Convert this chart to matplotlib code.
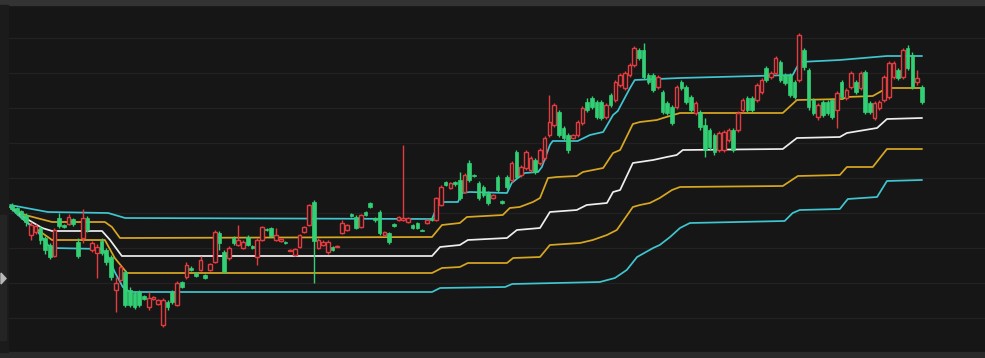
import numpy as np
import matplotlib
matplotlib.use("Agg")
import matplotlib.pyplot as plt
import matplotlib.patches as mpatches

# ── candle data (price units) ───────────────────────────────────────────────
opens = [155, 152, 149, 145, 125, 128, 132, 122, 115, 104,
         142, 135, 136, 141, 118, 122, 142, 110, 107, 119,
         110, 103, 70, 80, 88, 70, 67, 68, 64, 53,
         61, 56, 35, 58, 68, 55, 78, 83, 92, 87,
         90, 85, 90, 98, 127, 108, 102, 122, 115, 112,
         123, 114, 103, 120, 131, 132, 120, 119, 118, 109,
         105, 113, 128, 135, 158, 112, 115, 108, 113, 113,
         127, 130, 146, 143, 133, 148, 157, 142, 148, 125,
         127, 136, 140, 140, 138, 135, 137, 130, 137, 142,
         140, 155, 178, 172, 178, 180, 168, 197, 185, 177,
         173, 167, 162, 183, 159, 183, 180, 208, 185, 192,
         190, 200, 197, 202, 225, 235, 248, 232, 225, 222,
         225, 237, 258, 262, 258, 258, 243, 265, 260, 275,
         272, 285, 295, 310, 310, 285, 285, 273, 268, 257,
         253, 253, 278, 273, 263, 247, 248, 235, 230, 225,
         210, 210, 220, 230, 230, 250, 262, 262, 260, 268,
         292, 283, 287, 298, 285, 285, 278, 280, 310, 290,
         260, 243, 258, 258, 260, 250, 278, 262, 273, 278,
         272, 288, 257, 242, 252, 260, 263, 283, 290, 283,
         312, 305, 278, 273]
closes = [151, 147, 143, 138, 135, 134, 120, 110, 103, 130,
          134, 133, 143, 136, 104, 142, 130, 117, 113, 107,
          98, 83, 77, 93, 55, 55, 53, 55, 61, 62,
          63, 60, 60, 53, 58, 77, 73, 95, 90, 84,
          100, 82, 96, 128, 117, 88, 112, 117, 120, 118,
          115, 112, 120, 133, 130, 124, 125, 121, 117, 110,
          111, 125, 133, 155, 119, 120, 118, 118, 110, 114,
          137, 135, 144, 132, 145, 145, 153, 140, 127, 128,
          118, 134, 143, 142, 142, 132, 132, 129, 140, 140,
          162, 173, 175, 177, 176, 162, 185, 180, 184, 162,
          165, 157, 165, 170, 157, 173, 197, 183, 193, 208,
          202, 188, 210, 222, 238, 255, 225, 222, 210, 225,
          238, 252, 250, 253, 243, 242, 255, 255, 278, 285,
          287, 295, 312, 302, 283, 278, 270, 283, 248, 247,
          237, 273, 272, 258, 250, 257, 233, 210, 213, 208,
          227, 228, 230, 210, 247, 260, 250, 250, 275, 280,
          280, 287, 302, 280, 277, 265, 263, 325, 293, 253,
          247, 255, 245, 247, 243, 267, 263, 270, 287, 268,
          287, 248, 248, 257, 258, 283, 297, 297, 282, 310,
          292, 273, 282, 258]
highs = [157, 153, 150, 147, 138, 136, 134, 124, 117, 132,
         147, 136, 146, 142, 122, 151, 144, 119, 116, 122,
         112, 105, 83, 95, 90, 73, 69, 70, 65, 68,
         64, 61, 62, 60, 70, 79, 79, 98, 94, 88,
         104, 86, 97, 130, 129, 110, 114, 124, 135, 120,
         125, 115, 122, 134, 132, 133, 132, 122, 119, 111,
         112, 126, 134, 156, 160, 122, 120, 120, 114, 115,
         140, 136, 147, 145, 146, 149, 158, 143, 150, 129,
         128, 137, 144, 215, 143, 136, 138, 131, 141, 143,
         163, 175, 179, 178, 179, 188, 187, 200, 186, 179,
         175, 169, 166, 185, 160, 185, 199, 210, 195, 210,
         204, 202, 212, 224, 265, 257, 250, 234, 227, 226,
         240, 254, 262, 264, 260, 260, 257, 267, 280, 287,
         289, 297, 314, 312, 317, 287, 287, 285, 270, 259,
         255, 275, 280, 275, 265, 259, 250, 242, 232, 227,
         229, 230, 232, 232, 249, 262, 264, 264, 277, 282,
         294, 289, 304, 300, 287, 287, 280, 327, 312, 292,
         262, 257, 260, 260, 262, 269, 280, 272, 289, 280,
         289, 290, 259, 259, 260, 285, 299, 299, 292, 312,
         315, 308, 290, 275]
lows = [149, 145, 141, 134, 120, 126, 116, 106, 101, 103,
        132, 132, 135, 134, 102, 117, 128, 108, 82, 105,
        95, 80, 48, 78, 53, 53, 51, 53, 60, 50,
        60, 55, 33, 50, 56, 54, 72, 81, 89, 83,
        89, 81, 89, 97, 110, 87, 100, 115, 114, 111,
        114, 111, 95, 119, 129, 123, 119, 118, 116, 109,
        104, 112, 127, 134, 77, 111, 114, 106, 109, 113,
        126, 129, 143, 131, 132, 144, 152, 138, 125, 124,
        116, 133, 139, 139, 137, 131, 131, 129, 136, 139,
        139, 154, 174, 171, 174, 160, 167, 178, 183, 160,
        163, 155, 161, 168, 156, 171, 178, 182, 183, 190,
        188, 186, 195, 200, 223, 233, 223, 220, 207, 221,
        223, 235, 248, 251, 241, 240, 241, 253, 258, 273,
        270, 283, 293, 300, 281, 276, 268, 271, 246, 245,
        235, 251, 270, 256, 248, 245, 230, 203, 210, 205,
        208, 208, 218, 208, 228, 248, 248, 248, 258, 266,
        278, 281, 285, 278, 275, 263, 261, 278, 290, 250,
        245, 240, 243, 245, 241, 232, 261, 260, 271, 266,
        270, 246, 246, 240, 250, 258, 261, 281, 280, 281,
        290, 271, 275, 256]

# ── band lines: (bar index, price) breakpoints ─────────────────────────────
upper_cyan_x = [-0.4, 7.6, 20.4, 24.0, 89.1, 90.3, 91.2, 94.6, 95.4, 97.1,
                105.0, 106.0, 107.3, 108.8, 111.6, 112.4, 114.1, 114.7, 120.0,
                122.6, 125.4, 127.5, 128.5, 131.1, 132.1, 141.7, 165.6, 167.1,
                175.6, 185.6, 193.0]
upper_cyan_y = [155, 148, 147, 142, 141, 155, 158, 158, 167, 168,
                167, 177, 182, 187, 188, 193, 215, 219, 219,
                225, 228, 245, 249, 272, 280, 282, 285, 298,
                300, 304, 304]

upper_gold_x = [-0.4, 2.8, 8.5, 19.7, 21.2, 22.9, 24.4, 89.1, 91.2, 95.0,
                96.5, 104.1, 105.6, 107.7, 110.5, 112.0, 113.7, 115.6, 119.8,
                121.1, 125.4, 127.5, 129.0, 131.7, 133.2, 136.8, 138.1, 141.7,
                163.5, 166.5, 176.2, 177.1, 182.6, 185.6, 193.0]
upper_gold_y = [153, 145, 138, 138, 133, 122, 122, 123, 135, 137,
                143, 145, 152, 153, 158, 162, 182, 183, 184,
                188, 192, 207, 210, 236, 238, 240, 242, 247,
                247, 260, 261, 263, 264, 272, 272]

mid_white_x = [-0.4, 2.8, 6.4, 8.5, 19.1, 20.8, 23.3, 89.1, 90.8, 95.0,
               96.7, 105.0, 107.1, 112.0, 114.1, 119.8, 121.9, 126.2, 127.5,
               129.0, 131.7, 136.0, 138.9, 141.0, 142.3, 163.5, 166.5, 175.6,
               177.1, 183.5, 185.6, 193.0]
mid_white_y = [153, 142, 132, 129, 129, 120, 104, 104, 113, 115,
               120, 122, 130, 132, 148, 150, 155, 157, 168,
               170, 197, 200, 203, 205, 210, 211, 222, 223,
               227, 232, 241, 242]

lower_gold_x = [-0.4, 2.8, 6.4, 8.5, 19.7, 21.8, 24.4, 89.1, 91.2, 95.0,
                96.7, 105.0, 106.3, 112.0, 114.1, 120.5, 123.2, 126.2, 128.3,
                131.7, 133.2, 135.3, 137.4, 140.0, 141.7, 163.5, 166.7, 175.6,
                177.1, 182.6, 185.6, 193.0]
lower_gold_y = [153, 139, 127, 120, 120, 102, 87, 87, 92, 93,
                97, 97, 102, 103, 115, 117, 120, 125, 130,
                153, 155, 157, 162, 170, 173, 174, 184, 185,
                193, 193, 211, 211]

lower_cyan_x = [-0.4, 1.3, 5.5, 7.6, 8.5, 19.1, 20.4, 21.8, 23.5, 25.0,
                89.1, 90.8, 104.6, 106.1, 124.7, 127.9, 130.4, 132.6, 136.0,
                137.4, 139.6, 141.7, 143.8, 163.9, 165.6, 167.1, 175.6, 177.3,
                183.5, 185.6, 193.0]
lower_cyan_y = [153, 145, 128, 115, 112, 111, 103, 88, 73, 68,
                68, 72, 73, 76, 78, 82, 90, 103, 112,
                115, 123, 132, 137, 139, 147, 150, 151, 161,
                163, 179, 180]

grid_levels = [42, 77, 112, 147, 182, 217, 252, 287, 322]

# ── colours ─────────────────────────────────────────────────────────────────
BG = '#161616'
RED = '#e23b40'
GREEN = '#33cf74'
CYAN = '#3fc6d0'
GOLD = '#d8a722'
WHITE = '#eeeeee'

fig = plt.figure(figsize=(9.85, 3.58), dpi=100, facecolor=BG)

# frame pieces around the plot
fig.patches.append(mpatches.Rectangle((0, 1 - 5 / 358), 1, 5 / 358, transform=fig.transFigure,
                                      color='#333333', zorder=0))
fig.patches.append(mpatches.Rectangle((0, 0), 1, 6 / 358, transform=fig.transFigure,
                                      color='#2a2a2a', zorder=0))
fig.patches.append(mpatches.Rectangle((0, 6 / 358), 8 / 985, 347 / 358, transform=fig.transFigure,
                                      color='#1b1b1b', zorder=0))
fig.patches.append(mpatches.Rectangle((0, 18 / 358), 6 / 985, 125 / 358, transform=fig.transFigure,
                                      color='#242424', zorder=1))
fig.patches.append(mpatches.Polygon([(1 / 985, 1 - 273 / 358), (1 / 985, 1 - 284 / 358),
                                     (6 / 985, 1 - 278.5 / 358)], closed=True,
                                    transform=fig.transFigure, color='#b8b8b8', zorder=2))

ax = fig.add_axes([8 / 985, 6 / 358, 977 / 985, 347 / 358])
ax.set_facecolor(BG)
ax.set_xlim(-0.85, 206.4)
ax.set_ylim(8, 355)
for s in ax.spines.values():
    s.set_visible(False)
ax.set_yticks(grid_levels)
ax.set_xticks([])
ax.tick_params(left=False, labelleft=False)
ax.grid(True, axis='y', color='#222222', lw=0.9)
ax.set_axisbelow(True)

# bands
for xs, ys, col in [(upper_cyan_x, upper_cyan_y, CYAN),
                    (upper_gold_x, upper_gold_y, GOLD),
                    (mid_white_x, mid_white_y, WHITE),
                    (lower_gold_x, lower_gold_y, GOLD),
                    (lower_cyan_x, lower_cyan_y, CYAN)]:
    ax.plot(xs, ys, color=col, lw=1.25, zorder=2, solid_joinstyle='round')

# candles
o = np.array(opens, float)
c = np.array(closes, float)
h = np.array(highs, float)
l = np.array(lows, float)
idx = np.arange(len(o))
up = c >= o
colors = np.where(up, RED, GREEN)

ax.vlines(idx, l, h, colors=colors, lw=1.0, zorder=3)
body_lo = np.minimum(o, c)
body_h = np.maximum(np.abs(c - o), 1.0)
ax.bar(idx[up], body_h[up], bottom=body_lo[up], width=0.76,
       facecolor=BG, edgecolor=RED, linewidth=1.0, zorder=4)
ax.bar(idx[~up], body_h[~up], bottom=body_lo[~up], width=0.76,
       facecolor=GREEN, edgecolor=GREEN, linewidth=0.5, zorder=4)

fig.savefig("out.png", dpi=100, facecolor=BG)
